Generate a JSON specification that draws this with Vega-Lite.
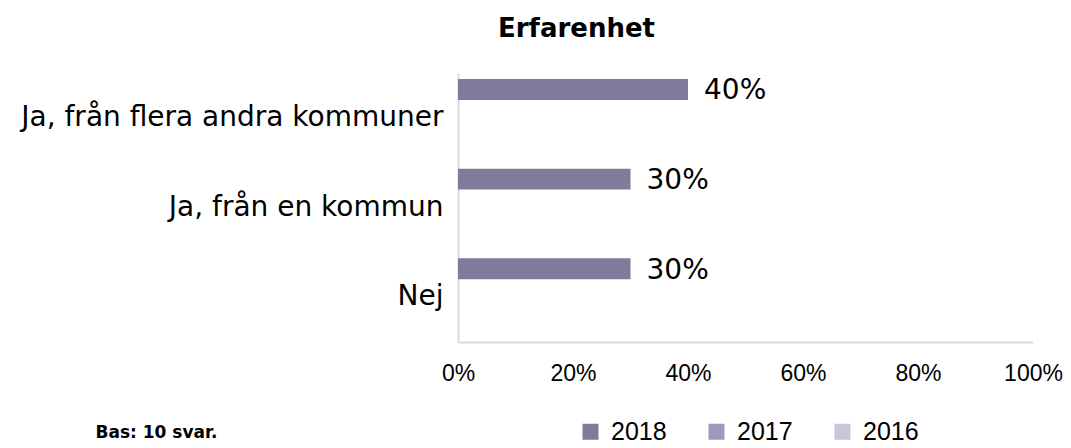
{
  "$schema": "https://vega.github.io/schema/vega-lite/v6.json",
  "width": 575,
  "height": 269,
  "autosize": {"type": "none"},
  "padding": {"left": 458, "top": 73, "right": 38, "bottom": 106},
  "background": "white",
  "title": {
    "text": "Erfarenhet",
    "font": "DejaVu Sans",
    "fontSize": 26,
    "fontWeight": "bold",
    "color": "#000000",
    "anchor": "middle",
    "frame": "group",
    "dx": -169,
    "offset": 31
  },
  "data": {
    "values": [
      {"category": "Ja, från flera andra kommuner", "year": "2018", "value": 0.4},
      {"category": "Ja, från en kommun", "year": "2018", "value": 0.3},
      {"category": "Nej", "year": "2018", "value": 0.3}
    ]
  },
  "encoding": {
    "y": {
      "field": "category",
      "type": "nominal",
      "sort": ["Ja, från flera andra kommuner", "Ja, från en kommun", "Nej"],
      "scale": {"paddingInner": 0, "paddingOuter": 0},
      "axis": {
        "title": null,
        "ticks": false,
        "domainColor": "#D9D9D9",
        "domainWidth": 2,
        "labelFont": "DejaVu Sans",
        "labelFontSize": 28,
        "labelColor": "#000000",
        "labelPadding": 15,
        "labelLimit": 600
      }
    },
    "yOffset": {
      "field": "year",
      "type": "nominal",
      "sort": ["2018", "2017", "2016"],
      "scale": {"domain": ["2018", "2017", "2016"], "paddingInner": 0.26, "paddingOuter": 0.21}
    },
    "x": {
      "field": "value",
      "type": "quantitative",
      "scale": {"domain": [0, 1]},
      "axis": {
        "values": [0, 0.2, 0.4, 0.6, 0.8, 1],
        "format": ".0%",
        "grid": false,
        "ticks": false,
        "domainColor": "#D9D9D9",
        "domainWidth": 2,
        "labelFont": "Liberation Sans",
        "labelFontSize": 23,
        "labelColor": "#000000",
        "labelPadding": 20,
        "labelFlush": false,
        "title": "Bas: 10 svar.",
        "titleFont": "DejaVu Sans",
        "titleFontSize": 17,
        "titleFontWeight": "bold",
        "titleColor": "#000000",
        "titleAnchor": "start",
        "titleAlign": "left",
        "titleBaseline": "middle",
        "titleX": -363,
        "titleY": 90
      }
    }
  },
  "layer": [
    {
      "mark": {"type": "bar"},
      "encoding": {
        "color": {
          "field": "year",
          "type": "nominal",
          "scale": {"domain": ["2018", "2017", "2016"], "range": ["#817A9D", "#9F99C1", "#C9C5DD"]},
          "legend": {
            "title": null,
            "orient": "none",
            "direction": "horizontal",
            "legendX": 120,
            "legendY": 346,
            "symbolType": "square",
            "symbolSize": 256,
            "symbolStrokeWidth": 0,
            "labelFont": "Liberation Sans",
            "labelFontSize": 25,
            "labelColor": "#000000",
            "labelOffset": 8,
            "columnPadding": 37,
            "padding": 0
          }
        }
      }
    },
    {
      "mark": {"type": "text", "align": "left", "baseline": "middle", "dx": 16, "dy": 2, "font": "DejaVu Sans", "fontSize": 28, "color": "#000000"},
      "encoding": {
        "text": {"field": "value", "type": "quantitative", "format": ".0%"}
      }
    }
  ],
  "config": {"view": {"stroke": null}}
}
